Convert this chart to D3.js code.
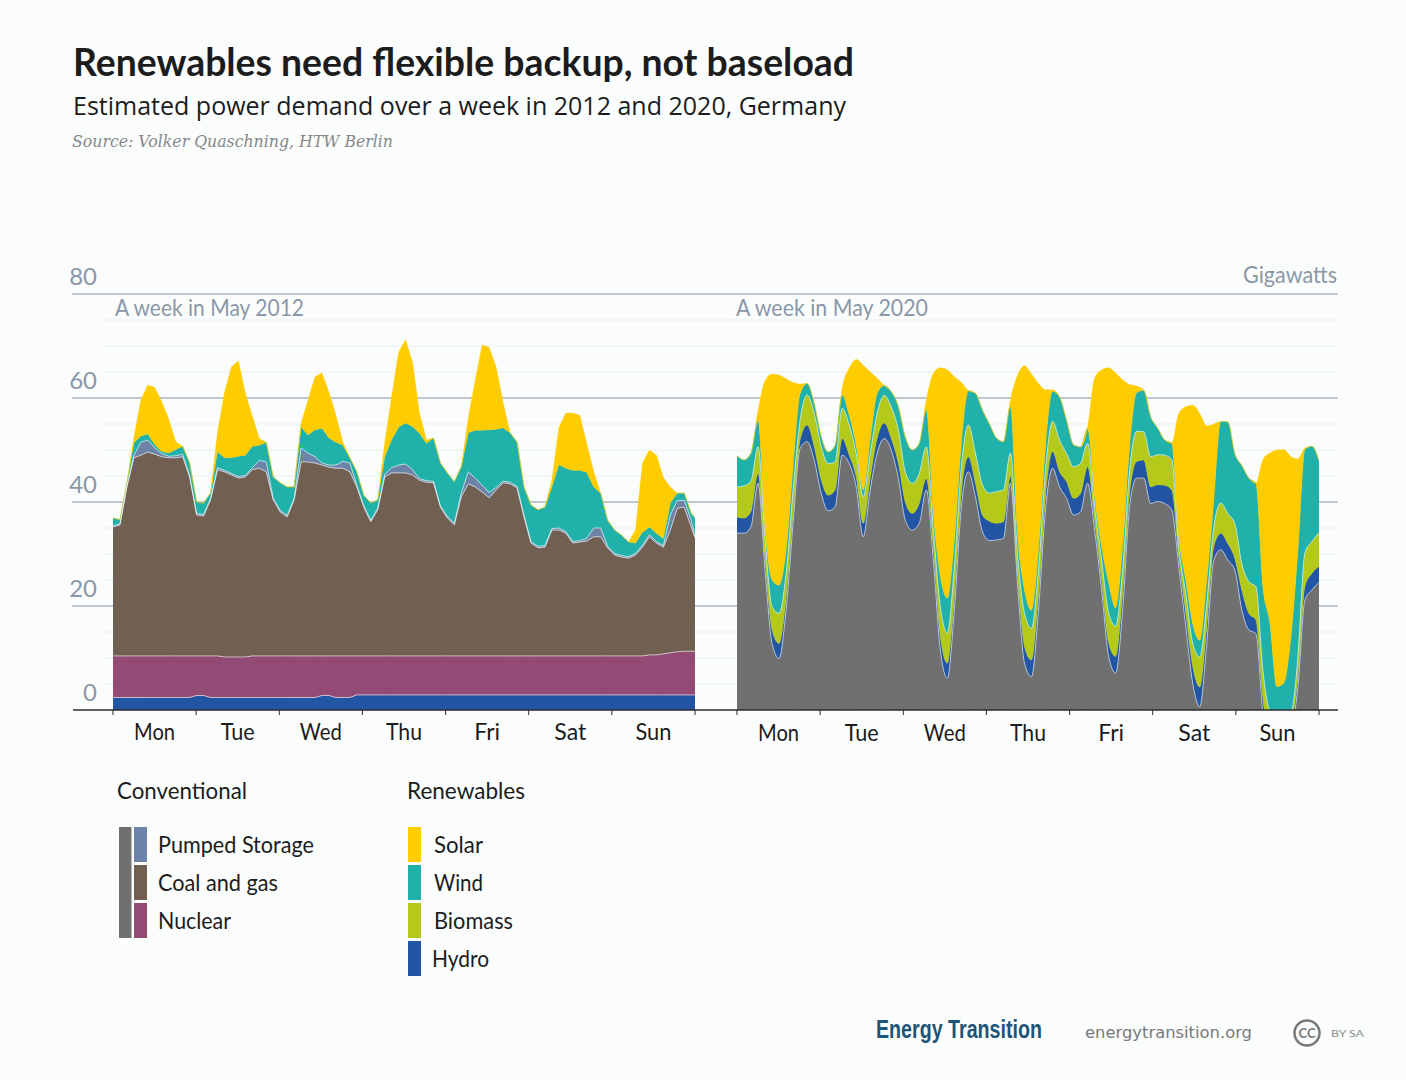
<!DOCTYPE html>
<html>
<head>
<meta charset="utf-8">
<script src="https://cdn.jsdelivr.net/npm/d3@7"></script>
<style>
  body { margin: 0; background: #fafdfc; }
  text { font-family: "Lato", "Noto Sans", sans-serif; }
</style>
</head>
<body>
<svg id="chart" width="1406" height="1080"></svg>
<script>
const days = ["Mon", "Tue", "Wed", "Thu", "Fri", "Sat", "Sun"];
const dayWidths = [41, 34, 42, 36, 26, 32, 36];
const yTicks = [0, 20, 40, 60, 80];
const minorTicks = [5, 10, 15, 25, 30, 35, 45, 50, 55, 65, 70, 75];

// 2012, GW, one value about every two hours
const hydro2012 = [2.4,2.4,2.4,2.4,2.4,2.4,2.4,2.4,2.4,2.4,2.4,2.4,2.8,2.8,2.4,2.4,2.4,2.4,2.4,2.4,2.4,2.4,2.4,2.4,2.4,2.4,2.4,2.4,2.4,2.4,2.8,2.8,2.4,2.4,2.4,2.9,2.9,2.9,2.9,2.9,2.9,2.9,2.9,2.9,2.9,2.9,2.9,2.9,2.9,2.9,2.9,2.9,2.9,2.9,2.9,2.9,2.9,2.9,2.9,2.9,2.9,2.9,2.9,2.9,2.9,2.9,2.9,2.9,2.9,2.9,2.9,2.9,2.9,2.9,2.9,2.9,2.9,2.9,2.9,2.9,2.9,2.9,2.9,2.9,2.9];
const nuclear2012 = [8,8,8,8,8,8,8,8,8,8,8,8,7.6,7.6,8,8,7.8,7.8,7.8,7.8,8,8,8,8,8,8,8,8,8,8,7.6,7.6,8,8,8,7.5,7.5,7.5,7.5,7.5,7.5,7.5,7.5,7.5,7.5,7.5,7.5,7.5,7.5,7.5,7.5,7.5,7.5,7.5,7.5,7.5,7.5,7.5,7.5,7.5,7.5,7.5,7.5,7.5,7.5,7.5,7.5,7.5,7.5,7.5,7.5,7.5,7.5,7.5,7.5,7.5,7.5,7.7,7.7,7.9,8.1,8.3,8.4,8.4,8.4];
const coal2012 = [24.8,25.2,32.5,38.1,38.6,39.2,38.8,38.3,38.1,38.1,38.3,34.4,27.1,26.9,30,35.8,35.6,35,34.4,34.6,35.8,36.1,35.4,30,27.7,26.7,30,37.3,37.3,37.1,36.7,36.3,36.1,36.1,35.4,32.5,28.6,25.8,28.1,34.4,35.2,35.2,35.2,34.8,33.8,33.4,33.3,28.6,26.5,25.2,30.6,33.1,32.5,31.5,30.4,31.9,33.3,33.1,32.3,26.7,21.7,20.8,20.9,24.2,24.2,23.6,21.7,21.9,22.1,22.9,22.9,20.8,19.4,19,18.8,19.4,20.9,22.7,21.5,20.5,23.6,27.6,27.7,23.9,21.8];
const pumped2012 = [.2,.2,.2,.4,2.5,2.3,1.2,.6,.3,.4,.5,.3,.3,.3,.3,.4,.3,.3,.3,.3,.4,1.5,1.9,.3,.3,.3,.3,2.7,1.7,1.2,.4,.4,.6,1.3,1.7,.3,.3,.3,.3,.5,1,1.5,1.7,1,.3,.3,.3,.3,.3,.3,.8,2.3,1.7,1.3,1,.5,.3,.3,.3,.3,.3,.3,.3,.3,.4,.3,.3,.3,.5,1.7,1.7,.3,.3,.3,.3,.3,.4,.4,.3,.3,2.9,1.5,1.3,1.3,.3];
const wind2012 = [1.5,.8,.6,2.5,1.2,1.2,.6,.4,.6,1.2,1.5,2.4,2.2,2.2,1,3.1,2.4,3,3.9,3.9,4.1,2.9,3.8,4.1,5.3,5.5,2.2,4,3.5,5.2,6.7,5.2,4.4,3.1,1,2.6,2,3.3,1.6,3.4,5.4,7.3,7.9,8.3,8.7,7.2,8.3,8.2,8.4,8,5,7.5,9.2,10.6,12.1,11.2,10.3,9.5,8.5,5.5,7,7,7.4,8,12.2,12.2,13.7,13.5,12.7,7.9,6.7,5,4.5,3.9,2.8,2,2.5,1.5,1.6,1.4,2.3,1.4,1.4,1.3,3.5];
const solar2012 = [0,0,0,1,6.9,9.4,11,9.6,6.5,1.5,0,0,0,0,0,3.7,12.5,17.5,18.3,11.9,5.8,1.3,0,0,0,0,0,.8,6.7,10.2,10.6,8.8,5.2,.6,0,0,0,0,0,2.7,8.3,14.4,16,12.3,3.8,.6,0,0,0,0,0,2.9,9.6,16.4,15.8,11.9,4.8,0,0,0,0,0,0,1.3,7.1,10.6,11,10.6,5.6,2.9,0,0,0,0,0,2.5,13.3,14.8,15,11.7,3.1,0,0,0,0];

// 2020, GW; conventional goes below zero on Sunday
const conventional2020 = [34,34,35.3,43.6,26.9,12.8,9.9,19.2,35.9,50.3,51.6,48.1,41.7,38.3,39.1,49,47.4,42.9,33.3,42.3,49.4,52.2,50,44.6,36.5,34.6,35.9,42.3,28.8,11.5,6.1,19.2,39.1,45.8,41,34.3,32.6,32.7,33,43.6,24.4,9,6.4,19.2,38.5,46.5,42.9,40.7,37.5,38.1,43.6,34.6,23.1,10.3,7.1,19.2,39.1,44.6,44.6,39.7,40.1,39.7,38.5,27.6,16,5.1,.6,12.8,28.8,30.8,28.8,26.9,19.2,15.4,14.7,-.6,-7.7,-7.7,-7.7,-4.5,4.5,21.2,23.1,24.5];
const hydro2020 = [3.1,2.9,2.9,1.9,2.2,2.6,2.9,2.2,1.9,1.6,3.2,2.6,2.6,3,3.2,3.2,1.6,1.9,2.6,2.2,2.9,3,2.2,2.9,3.5,3.2,3.8,2.2,2.6,2.6,2.9,2.6,2.6,2.9,2.6,3.2,3.7,3.2,3.2,1.3,1.9,3.2,3.2,2.9,2.6,3.2,2.9,3.2,3.2,3.5,3.2,1.9,1.9,2.6,3.2,3.2,2.6,3.2,3.5,3.2,3.2,3.5,3.8,1.9,2.6,3.2,3.8,3.2,2.6,3.2,3.2,2.2,3.8,3.2,2.6,2.9,2.6,2.6,2.6,1.9,1.9,2.6,3.2,3.1];
const biomass2020 = [5.8,6.2,5.8,5.1,3.8,4.5,5.8,4.8,4.5,3.8,5.8,6.4,6.4,6.1,5.4,5.8,5.8,4.5,5.1,4.8,4.8,5.3,6.1,6.4,5.8,5.8,5.8,6.1,3.2,5.8,5.8,5.8,5.1,6.1,5.8,5.8,5.4,6.1,6.1,4.5,3.8,6.4,6.1,4.8,5.1,5.8,6.1,5.4,6.1,5.8,4.5,2.6,3.8,5.8,5.8,4.5,4.5,5.8,5.4,5.8,5.8,5.8,5.8,1.9,3.8,4.5,5.8,4.5,3.8,5.8,5.8,6.7,5.1,6.1,6.4,5.4,5.1,4.5,4.5,2.2,3.8,6.4,6.1,6.5];
const wind2020 = [6,5,5.4,5.1,1.9,5.1,5.4,4.5,4.5,5.1,2.2,1.9,1.9,2.2,3.2,2.6,1.9,1.6,1.3,2.6,3.8,1.9,2.9,4.5,6.7,6.4,5.8,7.1,3.2,5.8,6.7,5.1,4.5,6.6,11.5,14.4,13.3,10.3,9.3,9,3.8,4.5,3.5,3.8,4.5,5.8,8.3,6.4,4.2,3.2,2.9,1.9,2.6,5.8,3.5,4.5,4.5,7.4,8,7.7,5.1,2.9,3.2,1.9,2.6,3.8,3.2,4.5,5.1,15.7,17.6,13.5,18.9,19.9,19.9,16,16.7,5.1,5.8,14.4,20.5,19.9,18.3,13.8];
const solar2020 = [0,0,0,1.9,28.5,39.6,40.4,33,16.2,1.9,0,0,0,0,0,1.3,9,16.5,24,13.1,2.9,0,0,0,0,0,0,1.9,26.9,40.1,43.9,31.4,11.7,0,0,0,0,0,0,1.3,30.4,43.1,45.4,32.1,10.9,.3,0,0,0,0,0,22.8,34,41.3,45.2,32.1,11.9,1.3,0,0,0,0,0,23.7,33.3,42,43.6,29.6,14.7,0,0,0,0,0,0,24.4,32.7,45.5,44.9,34.7,17.6,.3,0,0];

const colors = {
  conventional: "#707070", pumped: "#6e83a8", coal: "#715f52", nuclear: "#934b75",
  solar: "#ffcc00", wind: "#20b2aa", biomass: "#b5c91a", hydro: "#2255a4"
};
const legendConventional = [["Pumped Storage", "pumped", 156], ["Coal and gas", "coal", 120], ["Nuclear", "nuclear", 73]];
const legendRenewables = [["Solar", "solar", 49], ["Wind", "wind", 49], ["Biomass", "biomass", 79], ["Hydro", "hydro", 57]];

const axisColor = "#8a97a8";
const svg = d3.select("#chart");
const y = d3.scaleLinear().domain([0, 80]).range([710, 294]);

function label(text, x, yPos, size, opts = {}) {
  const t = svg.append("text").attr("x", x).attr("y", yPos).attr("font-size", size)
    .attr("fill", opts.fill || "#1c1c1c").attr("text-anchor", opts.anchor || "start").text(text);
  if (opts.width) t.attr("textLength", opts.width).attr("lengthAdjust", "spacingAndGlyphs");
  if (opts.weight) t.attr("font-weight", opts.weight);
  if (opts.family) t.style("font-family", opts.family);
  if (opts.italic) t.attr("font-style", "italic");
  return t;
}

svg.append("rect").attr("width", 1406).attr("height", 1080).attr("fill", "#fafdfc");

// headline
label("Renewables need flexible backup, not baseload", 73, 76, 37.5, { weight: 700, width: 781 });
label("Estimated power demand over a week in 2012 and 2020, Germany", 73, 115, 25, { width: 773, family: "'Open Sans', sans-serif" });
label("Source: Volker Quaschning, HTW Berlin", 72, 147, 17, { fill: "#85888b", italic: true, family: "'DejaVu Serif', serif", width: 321 });

// grid
svg.append("g").selectAll("line").data(minorTicks).join("line")
  .attr("x1", 104).attr("x2", 1338).attr("y1", d => y(d)).attr("y2", d => y(d))
  .attr("stroke", "#eceff1").attr("stroke-width", 1);
svg.append("g").selectAll("line").data(yTicks.filter(d => d > 0)).join("line")
  .attr("x1", 72).attr("x2", 1338).attr("y1", d => y(d)).attr("y2", d => y(d))
  .attr("stroke", "#aeb5c0").attr("stroke-width", 1.4);

svg.append("g").selectAll("text").data(yTicks).join("text")
  .attr("x", 97).attr("y", d => y(d) - 9).attr("text-anchor", "end")
  .attr("font-size", 24).attr("fill", axisColor).text(d => d);
label("Gigawatts", 1337, 283, 23, { fill: axisColor, anchor: "end", width: 94 });
label("A week in May 2012", 115, 316, 23, { fill: axisColor, width: 189 });
label("A week in May 2020", 736, 316, 23, { fill: axisColor, width: 192 });

function panel(x0, x1, series, hourStep, labelY, id, curve) {
  const keys = series.map(s => s.key);
  const n = series[0].values.length;
  const rows = d3.range(n).map(i => {
    const row = { hour: Math.min(i * hourStep, 168) };
    series.forEach(s => { row[s.key] = s.values[i]; });
    return row;
  });
  const x = d3.scaleLinear().domain([0, 168]).range([x0, x1]);
  const stacked = d3.stack().keys(keys)(rows);

  svg.append("clipPath").attr("id", id).append("rect")
    .attr("x", x0).attr("y", y(80)).attr("width", x1 - x0).attr("height", y(0) - y(80));

  const area = d3.area().x(d => x(d.data.hour)).y0(d => y(d[0])).y1(d => y(d[1])).curve(curve);
  const top = d3.line().x(d => x(d.data.hour)).y(d => y(d[1])).curve(curve);

  const g = svg.append("g").attr("clip-path", `url(#${id})`);
  g.selectAll("path.band").data(stacked).join("path").attr("class", "band")
    .attr("d", area).attr("fill", d => colors[d.key])
    .attr("stroke", d => colors[d.key]).attr("stroke-width", 0.4);
  // pale seams between the bands
  g.selectAll("path.seam").data(stacked.filter(d => series.find(s => s.key === d.key).seam)).join("path")
    .attr("class", "seam").attr("d", top).attr("fill", "none")
    .attr("stroke", "#fff").attr("stroke-opacity", 0.6).attr("stroke-width", 1);

  const dayScale = d3.scaleBand().domain(days).range([x0, x1]);
  svg.append("g").selectAll("line").data(d3.range(8)).join("line")
    .attr("x1", d => x(d * 24)).attr("x2", d => x(d * 24)).attr("y1", 710).attr("y2", 715)
    .attr("stroke", "#2b2b2b").attr("stroke-width", 1);
  days.forEach((d, i) => {
    label(d, dayScale(d) + dayScale.bandwidth() / 2, labelY, 23, { anchor: "middle", width: dayWidths[i] });
  });
}

panel(113, 695, [
  { key: "hydro", values: hydro2012, seam: true },
  { key: "nuclear", values: nuclear2012, seam: true },
  { key: "coal", values: coal2012, seam: true },
  { key: "pumped", values: pumped2012, seam: true },
  { key: "wind", values: wind2012 },
  { key: "solar", values: solar2012 }
], 2.011, 740, "clip2012", d3.curveLinear);

panel(737, 1319, [
  { key: "conventional", values: conventional2020, seam: true },
  { key: "hydro", values: hydro2020 },
  { key: "biomass", values: biomass2020, seam: true },
  { key: "wind", values: wind2020 },
  { key: "solar", values: solar2020 }
], 2.024, 741, "clip2020", d3.curveMonotoneX);

svg.append("line").attr("x1", 73).attr("x2", 1338).attr("y1", 710).attr("y2", 710)
  .attr("stroke", "#2b2b2b").attr("stroke-width", 1.5);

// legend
label("Conventional", 117, 799, 23, { width: 130 });
label("Renewables", 407, 799, 23, { width: 118 });
svg.append("rect").attr("x", 119).attr("y", 827).attr("width", 12.5).attr("height", 111).attr("fill", colors.conventional);
const rowY = d3.scalePoint().domain(d3.range(4)).range([827, 941]);
legendConventional.forEach(([name, key, w], i) => {
  svg.append("rect").attr("x", 134).attr("y", rowY(i)).attr("width", 13).attr("height", 35).attr("fill", colors[key]);
  label(name, 158, rowY(i) + 26, 23, { width: w });
});
legendRenewables.forEach(([name, key, w], i) => {
  svg.append("rect").attr("x", 408).attr("y", rowY(i)).attr("width", 13).attr("height", 35).attr("fill", colors[key]);
  label(name, name === "Hydro" ? 432 : 434, rowY(i) + 26, 23, { width: w });
});

// footer
label("Energy Transition", 876, 1038, 25, { fill: "#1d5478", weight: 700, width: 166, family: "'Liberation Sans Narrow', 'Liberation Sans', sans-serif" });
label("energytransition.org", 1085, 1038, 16, { fill: "#77797b", width: 167, family: "'DejaVu Sans', sans-serif" });
svg.append("circle").attr("cx", 1307).attr("cy", 1033).attr("r", 12.5).attr("fill", "none").attr("stroke", "#77797b").attr("stroke-width", 2.5);
label("CC", 1307, 1038, 13, { fill: "#77797b", anchor: "middle", weight: 700 });
label("BY SA", 1331, 1037, 10, { fill: "#8a8c8e", width: 33 });
</script>
</body>
</html>
